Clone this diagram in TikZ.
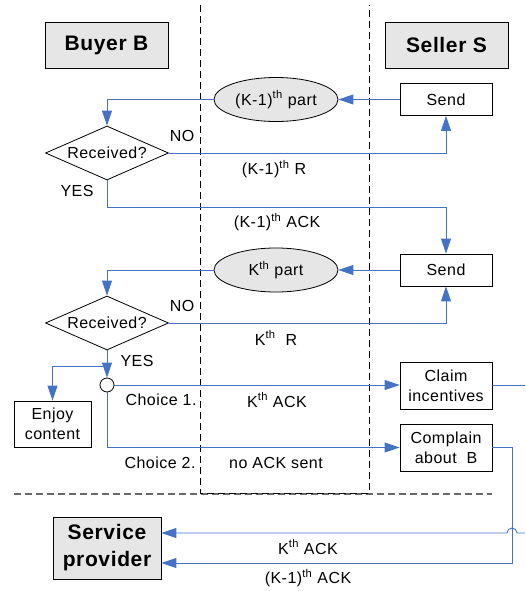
\documentclass[tikz,border=0pt]{standalone}
\usepackage{fontspec}
\setmainfont{Liberation Sans}[LetterSpace=3]
\usetikzlibrary{arrows.meta,positioning,shapes.geometric,calc}
\definecolor{flowblue}{RGB}{68,114,196}
\definecolor{boxgray}{RGB}{230,230,230}
\definecolor{sepgray}{RGB}{105,105,105}

\tikzset{
  every node/.style={font=\fontsize{16}{20}\selectfont},
  head/.style={draw, fill=boxgray, line width=0.8pt, minimum width=123pt, minimum height=46pt,
    inner sep=0pt, align=center, font=\fontsize{21}{27}\selectfont\bfseries},
  box/.style={draw, fill=white, line width=0.8pt, minimum width=92pt, inner sep=0pt, align=center},
  part/.style={ellipse, draw, fill=boxgray, line width=0.8pt, minimum width=124pt, minimum height=44pt, inner sep=0pt},
  check/.style={diamond, draw, fill=white, line width=0.8pt, aspect=2.3, minimum width=123pt, minimum height=54pt, inner sep=0pt},
  flow/.style={draw=flowblue, line width=0.9pt, -{Triangle[length=15pt,width=10pt]}},
  lane/.style={dash pattern=on 7pt off 4pt, line width=0.8pt}
}

\begin{document}
\begin{tikzpicture}[x=1pt,y=-1pt]
\useasboundingbox (0,0) rectangle (525,591);
\clip (0,0) rectangle (525,591);
% Lanes
\draw[lane, sepgray, line width=1.2pt] (14,494) -- (492,494);
\draw[lane] (200,5) -- (200,493) -- (369,493) -- (369,5);
% Parties
\node[head] (buyer) at (106.5,45) {Buyer B};
\node[head] (seller) at (446.5,45) {Seller S};
% Round K-1
\node[box, minimum height=32pt] (sendA) at (446,99.5) {Send};
\node[part] (partA) at (276,99.5) {(K-1)\textsuperscript{th} part};
\node[check] (recA) at (107,153) {Received?};
\node (noA) at (182,136) {NO};
\node (yesA) at (77,191) {YES};
\node (rA) at (274,169) {(K-1)\textsuperscript{th} R};
\node (ackA) at (277,222) {(K-1)\textsuperscript{th} ACK};
% Round K
\node[box, minimum height=32pt] (sendB) at (446,270) {Send};
\node[part] (partB) at (276,270) {K\textsuperscript{th} part};
\node[check] (recB) at (107,323) {Received?};
\node (noB) at (182,306) {NO};
\node (yesB) at (137,361) {YES};
\node (rB) at (276,338) {K\textsuperscript{th}\ \ R};
% Choices
\node[circle, draw, fill=white, line width=0.8pt, minimum size=14pt, inner sep=0pt] (choice) at (107,385) {};
\node[box, minimum width=77pt, minimum height=46pt] (enjoy) at (52.5,424) {Enjoy\\content};
\node[box, minimum height=47pt] (claim) at (446,385.5) {Claim\\incentives};
\node[box, minimum height=47pt] (complain) at (446,447.5) {Complain\\about\ \ B};
\node (choiceA) at (161,400) {Choice 1.};
\node (ackK) at (277,400) {K\textsuperscript{th} ACK};
\node (choiceB) at (160,463) {Choice 2.};
\node (noack) at (276,463) {no ACK sent};
% Service provider
\node[head, minimum width=108pt, minimum height=62pt] (provider) at (107,548) {Service\\provider};
\coordinate (inK) at ($(provider.east)+(0,-15)$);
\coordinate (inKm1) at ($(provider.east)+(0,15)$);
\node (provK) at (308,547) {K\textsuperscript{th} ACK};
\node (provKm1) at (308,578) {(K-1)\textsuperscript{th} ACK};
% Flows
\draw[flow] (sendA.west) -- (partA.east);
\draw[flow] (partA.west) -| (recA.north);
\draw[flow] (recA.east) -| (sendA.south);
\draw[flow] (recA.south) -- ++(0,27) -| (sendB.north);
\draw[flow] (sendB.west) -- (partB.east);
\draw[flow] (partB.west) -| (recB.north);
\draw[flow] (recB.east) -| (sendB.south);
\draw[flow] (recB.south) -- (choice.north);
\draw[flow] ($(recB.south)+(0,16)$) -| (enjoy.north);
\draw[flow] (choice.east) -- (choice.east -| claim.west);
\draw[flow] (choice.south) |- (complain.west);
\draw[flow] (complain.east) -- ++(20,0) |- (inKm1);
\draw[flow] (claim.east) -- ++(48,0) |- (517,533) arc[start angle=0, end angle=180, radius=5pt] -- (inK);
\end{tikzpicture}
\end{document}
